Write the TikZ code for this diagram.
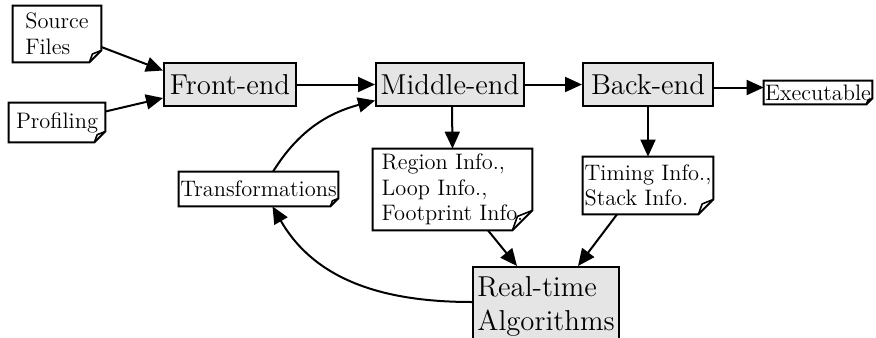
\documentclass[tikz,border=0pt]{standalone}
\usetikzlibrary{arrows.meta}
\definecolor{boxgray}{HTML}{E5E5E5}
\begin{document}
\begin{tikzpicture}[x=0.5pt,y=-0.5pt,
  big/.style={draw, line width=1pt, fill=boxgray, inner sep=0pt, font=\fontsize{14.4}{17}\selectfont, align=center},
  note/.style={inner sep=0pt, font=\fontsize{11.2}{12.8}\selectfont, align=left},
  arr/.style={line width=1pt, -{Triangle[length=8.5pt,width=7.5pt]}},
  foldline/.style={line width=1pt, line join=miter}]
\useasboundingbox (0,0) rectangle (876,337);
\node[note, minimum width=44pt, minimum height=28pt] (src) at (57,34) {Source\\Files};
\node[note, minimum width=48pt, minimum height=19.5pt] (prof) at (57,122.5) {Profiling};
\node[big, minimum width=66pt, minimum height=21.5pt] (fe) at (230,84.5) {Front-end};
\node[big, minimum width=74pt, minimum height=21.5pt] (me) at (450,84.5) {Middle-end};
\node[big, minimum width=65pt, minimum height=21.5pt] (be) at (648,84.5) {Back-end};
\node[note, minimum width=54pt, minimum height=11.5pt] (exe) at (818,92.5) {Executable};
\node[note, minimum width=79.5pt, minimum height=40.5pt] (reg) at (452.5,189.5) {Region Info.,\\Loop Info.,\\Footprint Info.};
\node[note, minimum width=65pt, minimum height=28.5pt] (tim) at (648,185.5) {Timing Info.,\\Stack Info.};
\node[note, minimum width=79.5pt, minimum height=17pt] (tr) at (258.5,189) {Transformations};
\node[big, minimum width=73pt, minimum height=39pt, align=left] (rt) at (546,306) {Real-time\\Algorithms};
\foreach \n/\f in {src/6,prof/5.5,exe/3,reg/10,tim/7.5,tr/4} {
  \draw[foldline] (\n.north west) -- (\n.north east) -- ([yshift=\f*1pt]\n.south east) -- ([xshift=-\f*1pt]\n.south east) -- (\n.south west) -- cycle;
  \draw[line width=0.8pt, line join=round] ([xshift=-\f*1pt]\n.south east) -- ([xshift=-0.75*\f*1pt, yshift=0.7*\f*1pt]\n.south east) -- ([yshift=\f*1pt]\n.south east);
}
\draw[arr] ([yshift=-6.5pt]src.east) -- ([yshift=7pt]fe.west);
\draw[arr] ([yshift=5.5pt]prof.east) -- ([yshift=-6.75pt]fe.west);
\draw[arr] (fe.east) -- (me.west);
\draw[arr] (me.east) -- (be.west);
\draw[arr] ([yshift=-1.5pt]be.east) -- ([yshift=2.5pt]exe.west);
\draw[arr] ([xshift=1pt]me.south) -- (reg.north);
\draw[arr] (be.south) -- (tim.north);
\draw[arr] ([xshift=17.75pt]reg.south) -- ([xshift=-14.5pt]rt.north);
\draw[arr] ([xshift=-15.5pt]tim.south) -- ([xshift=16pt]rt.north);
\draw[arr] ([yshift=2pt]rt.west) to[out=180,in=-60] ([xshift=7pt]tr.south);
\draw[arr] ([xshift=7.25pt]tr.north) to[out=58,in=195] ([yshift=-8pt]me.west);
\end{tikzpicture}
\end{document}
